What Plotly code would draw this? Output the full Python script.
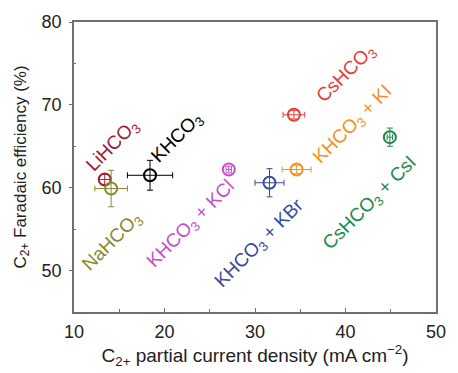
import plotly.graph_objects as go

names = ["LiHCO3", "NaHCO3", "KHCO3", "KHCO3 + KCl", "KHCO3 + KBr", "KHCO3 + KI", "CsHCO3", "CsHCO3 + CsI"]
labels = ["LiHCO<sub>3</sub>", "NaHCO<sub>3</sub>", "KHCO<sub>3</sub>", "KHCO<sub>3</sub> + KCl",
          "KHCO<sub>3</sub> + KBr", "KHCO<sub>3</sub> + KI", "CsHCO<sub>3</sub>", "CsHCO<sub>3</sub> + CsI"]
current = [13.4, 14.1, 18.4, 27.1, 31.6, 34.6, 34.3, 44.9]
current_err = [0.6, 1.8, 2.5, 0.3, 1.6, 1.6, 1.2, 0.3]
fe = [61.0, 59.9, 61.5, 62.2, 60.6, 62.2, 68.8, 66.1]
fe_err = [0.6, 2.2, 1.8, 0.4, 1.7, 0.5, 0.5, 1.1]
colors = ["#9b2335", "#8a8a30", "#000000", "#c84fc8", "#3b4a9c", "#f39224", "#e0403a", "#1e8a4c"]

# label anchor positions (data coords)
label_x = [14.3, 14.2, 21.4, 23.0, 30.5, 40.8, 40.1, 42.8]
label_y = [65.0, 53.5, 66.0, 55.6, 53.2, 67.6, 73.7, 58.1]

fig = go.Figure()
for i in range(len(names)):
    fig.add_trace(go.Scatter(
        x=[current[i]], y=[fe[i]], mode="markers", name=names[i],
        marker=dict(symbol="circle-open", size=12, color=colors[i], line=dict(width=2, color=colors[i])),
        error_x=dict(type="data", array=[current_err[i]], color=colors[i], thickness=1, width=3),
        error_y=dict(type="data", array=[fe_err[i]], color=colors[i], thickness=1, width=3),
        showlegend=False,
    ))
    fig.add_annotation(x=label_x[i], y=label_y[i], text=labels[i], showarrow=False,
                       textangle=-45, font=dict(size=19, color=colors[i], family="Liberation Sans, Arial"))

fig.update_layout(
    width=458, height=373,
    margin=dict(l=74, r=14, t=20, b=59),
    plot_bgcolor="white", paper_bgcolor="white",
    font=dict(family="Liberation Sans, Arial", size=18, color="#222"),
    xaxis=dict(range=[10, 50], tickvals=[10, 20, 30, 40, 50], showgrid=False, zeroline=False,
               showline=True, linecolor="#707070", linewidth=1.5, mirror=True,
               ticks="inside", ticklen=4, tickcolor="#707070", ticklabelstandoff=3,
               minor=dict(tickvals=[15, 25, 35, 45], ticks="inside", ticklen=3, tickcolor="#707070"),
               title=dict(text="C<sub>2+</sub> partial current density (mA cm<sup>−2</sup>)", font=dict(size=19), standoff=5),
               tickfont=dict(size=18)),
    yaxis=dict(range=[45, 80], tickvals=[50, 60, 70, 80], showgrid=False, zeroline=False,
               showline=True, linecolor="#707070", linewidth=1.5, mirror=True,
               ticks="outside", ticklen=3, tickcolor="#707070", ticklabelstandoff=4,
               minor=dict(tickvals=[55, 65, 75], ticks="inside", ticklen=2, tickcolor="#707070"),
               title=dict(text="C<sub>2+</sub> Faradaic efficiency (%)", font=dict(size=17), standoff=11),
               tickfont=dict(size=18)),
)

fig.write_html("out.html")
